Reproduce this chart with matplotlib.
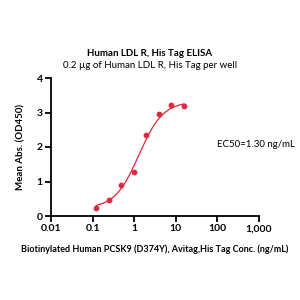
import numpy as np
import matplotlib
matplotlib.use('Agg')
import matplotlib.pyplot as plt
from matplotlib.ticker import FixedLocator, FixedFormatter, NullLocator

plt.rcParams['font.family'] = ['Lato', 'DejaVu Sans']

# Data
conc = [0.1235, 0.247, 0.494, 0.988, 1.975, 3.95, 7.9, 15.8]
od450 = [0.24, 0.46, 0.89, 1.27, 2.35, 2.97, 3.21, 3.20]

# 4PL fit parameters (approx.)
bottom, top, ec50, hill = 0.22, 3.32, 1.30, 1.5

red = '#E0283F'

fig = plt.figure(figsize=(3, 3), dpi=100)
ax = fig.add_axes([0.17, 0.28, 0.693, 0.46])

xs = np.logspace(np.log10(conc[0]), np.log10(conc[-1]), 200)
ys = bottom + (top - bottom) / (1 + (ec50 / xs) ** hill)
ax.plot(xs, ys, color=red, lw=0.9)
ax.scatter(conc, od450, color=red, s=10, zorder=3)

ax.set_xscale('log')
ax.set_xlim(0.01, 1000)
ax.set_ylim(0, 4)
ax.xaxis.set_major_locator(FixedLocator([0.01, 0.1, 1, 10, 100, 1000]))
ax.xaxis.set_major_formatter(FixedFormatter(['0.01', '0.1', '1', '10', '100', '1,000']))
ax.xaxis.set_minor_locator(NullLocator())
ax.set_yticks([0, 1, 2, 3, 4])

for s in ['top', 'right']:
    ax.spines[s].set_visible(False)
for s in ['left', 'bottom']:
    ax.spines[s].set_linewidth(1.3)
ax.tick_params(width=1.3, length=4, labelsize=7.5, pad=2)
for lbl in ax.get_xticklabels() + ax.get_yticklabels():
    lbl.set_fontweight('bold')

ax.set_xlabel('Biotinylated Human PCSK9 (D374Y), Avitag,His Tag Conc. (ng/mL)',
              fontsize=6.5, fontweight='bold', labelpad=8)
ax.set_ylabel('Mean Abs. (OD450)', fontsize=7, fontweight='bold', labelpad=8)

fig.text(0.5, 0.822, 'Human LDL R, His Tag ELISA', ha='center', va='center',
         fontsize=7, fontweight='bold')
fig.text(0.5, 0.78, '0.2 µg of Human LDL R, His Tag per well', ha='center',
         va='center', fontsize=7)
fig.text(0.853, 0.517, 'EC50=1.30 ng/mL', ha='center', va='center', fontsize=7)

fig.savefig('out.png', dpi=100)
